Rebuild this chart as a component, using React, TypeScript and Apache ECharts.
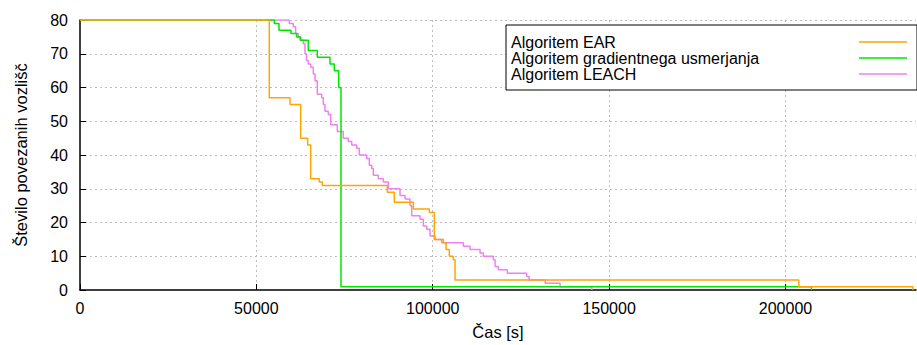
import React, { useEffect, useRef } from "react";
import * as echarts from "echarts";

const seriesNames = ["Algoritem EAR", "Algoritem gradientnega usmerjanja", "Algoritem LEACH"];
const seriesColors = ["#ffa500", "#00e600", "#ee82ee"];

const xTicks = [0, 50000, 100000, 150000, 200000];
const yTicks = [0, 10, 20, 30, 40, 50, 60, 70, 80];
const xMax = 237000;

const earX = [0, 53660, 59530, 62560, 64540, 65400, 67840, 68690, 87120, 89110, 94500, 99030, 100450, 103000, 103770, 104700, 105840, 106320, 203800, 236120];
const earY = [80, 57, 55, 45, 43, 33, 32, 31, 29, 26, 24, 23, 15, 14, 12, 10, 9, 3, 1, 0];

const gradX = [0, 55080, 56410, 59810, 61430, 62560, 64720, 67270, 70870, 72090, 73340, 73990, 207370];
const gradY = [80, 79, 77, 76, 75, 74, 71, 69, 67, 65, 60, 1, 0];

const leachX = [0, 59330, 60460, 61140, 61880, 62360, 63300, 63780, 64200, 64720, 65400, 66140, 66620, 67270, 68520, 68970, 69450, 70390, 71070, 72940, 74640, 76060, 77030, 78440, 79180, 81280, 82020, 82700, 83150, 84570, 85990, 87400, 90720, 92140, 93560, 94040, 96400, 97330, 98300, 99230, 100650, 102550, 108680, 110580, 113410, 114350, 117180, 117670, 118600, 121150, 126650, 127310, 131850, 136100, 145090];
const leachY = [80, 79, 78, 76, 75, 74, 73, 70, 68, 67, 66, 64, 62, 58, 57, 55, 53, 52, 49, 47, 45, 44, 43, 42, 40, 39, 37, 36, 34, 33, 32, 30, 28, 27, 25, 22, 21, 19, 18, 16, 15, 14, 13, 12, 11, 10, 9, 7, 6, 5, 4, 3, 2, 1, 0];

const allX = [earX, gradX, leachX];
const allY = [earY, gradY, leachY];

const FONT = "'Liberation Sans', Arial, sans-serif";
const FS = 16;
const FS_NAME = 16.5;

export default function App() {
  const ref = useRef<HTMLDivElement>(null);
  useEffect(() => {
    if (!ref.current) return;
    const chart = echarts.init(ref.current, undefined, { renderer: "svg" });
    const gridLine = { show: true, lineStyle: { color: "#bdbdbd", type: [2, 3] as any, width: 1 } };
    chart.setOption({
      animation: false,
      textStyle: { fontFamily: FONT },
      grid: { left: 80, right: 1, top: 20, bottom: 52, containLabel: false },
      legend: {
        orient: "vertical",
        left: 506,
        top: 25,
        align: "right",
        backgroundColor: "#ffffff",
        borderColor: "#000000",
        borderWidth: 1,
        padding: [9, 10, 8, 5],
        itemWidth: 48,
        itemHeight: 14,
        itemGap: 0,
        formatter: (n: string) => "{a|" + n + "}",
        textStyle: {
          fontFamily: FONT,
          fontSize: FS,
          color: "#000",
          rich: { a: { fontFamily: FONT, fontSize: FS, color: "#000", width: 343, align: "left", lineHeight: 17 } },
        },
        data: seriesNames.map((n) => ({ name: n, icon: "path://M0,0L48,0L48,1.5L0,1.5Z" })),
      },
      xAxis: {
        type: "value",
        min: 0,
        max: xMax,
        interval: 50000,
        name: "Čas [s]",
        nameLocation: "middle",
        nameGap: 33,
        nameTextStyle: { fontFamily: FONT, fontSize: FS_NAME, color: "#000" },
        axisLine: { show: true, onZero: false, lineStyle: { color: "#000", width: 1.5 } },
        axisTick: { show: true, inside: true, length: 6, lineStyle: { color: "#000" } },
        axisLabel: { fontFamily: FONT, fontSize: FS, color: "#000", margin: 10, showMaxLabel: false, formatter: (v: number) => (xTicks.includes(v) ? String(v) : "") },
        splitLine: { ...gridLine, showMinLine: false, showMaxLine: false },
      },
      yAxis: {
        type: "value",
        min: 0,
        max: 80,
        interval: 10,
        name: "Število povezanih vozlišč",
        nameLocation: "middle",
        nameGap: 51,
        nameTextStyle: { fontFamily: FONT, fontSize: FS_NAME, color: "#000" },
        axisLine: { show: true, lineStyle: { color: "#000", width: 1.5 } },
        axisTick: { show: true, inside: true, length: 6, lineStyle: { color: "#000" } },
        axisLabel: { fontFamily: FONT, fontSize: FS, color: "#000", margin: 12, formatter: (v: number) => (yTicks.includes(v) ? String(v) : "") },
        splitLine: { ...gridLine, showMinLine: false },
      },
      series: seriesNames.map((name, i) => ({
        name,
        type: "line",
        step: "end",
        symbol: "none",
        color: seriesColors[i],
        lineStyle: { color: seriesColors[i], width: 1.5 },
        data: allX[i].map((x, j) => [x, allY[i][j]]),
        z: 3 - i,
      })),
    });
    return () => chart.dispose();
  }, []);
  return <div ref={ref} style={{ width: 917, height: 345, position: "absolute", left: 0, top: 0 }} />;
}
